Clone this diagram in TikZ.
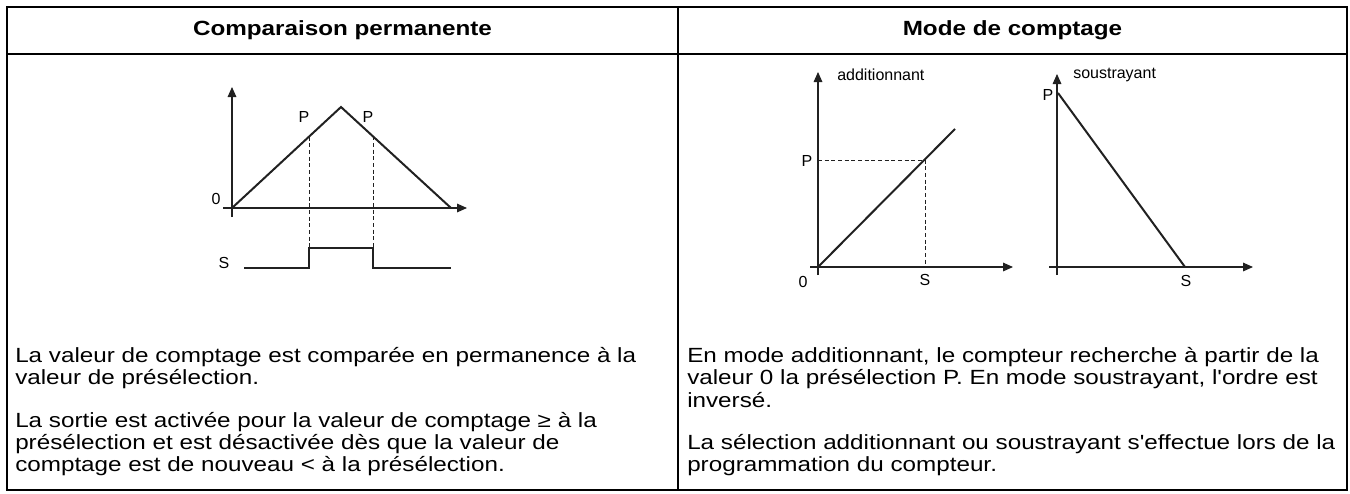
\documentclass[tikz,border=0pt]{standalone}
\usepackage{fontspec}
\newfontfamily\bodyfont{Liberation Sans}[FakeStretch=1.18]
\newfontfamily\graphfont{Liberation Sans}
\usetikzlibrary{arrows.meta}

\begin{document}
\begin{tikzpicture}[x=0.75pt,y=-0.75pt,line join=miter,
  frame/.style={line width=1.6pt},
  axis/.style={line width=0.8pt,-{Triangle[length=7.5pt,width=6.5pt]}},
  curve/.style={line width=1.5pt},
  guide/.style={line width=0.6pt,dash pattern=on 3pt off 2pt},
  signal/.style={line width=0.8pt},
  lbl/.style={font=\graphfont\fontsize{12}{14}\selectfont,inner sep=0pt},
  head/.style={font=\bodyfont\bfseries\fontsize{15.4}{16.8}\selectfont,inner sep=0pt},
  body/.style={font=\bodyfont\fontsize{15.4}{16.8}\selectfont,align=left,anchor=north west,inner sep=0pt}]
\definecolor{trait}{rgb}{0.13,0.13,0.13}
\useasboundingbox (0,0) rectangle (1350,493);
% tableau
\draw [frame] (7,7) rectangle (1347,490);
\draw [frame] (7,54)-- (1347,54);
\draw [frame] (678,7)-- (678,490);
\node [head] (hcomp) at (342.5,30.5) {Comparaison permanente};
\node [head] (hmode) at (1012.5,30.5) {Mode de comptage};
% comparaison permanente
\coordinate (o1) at (232,208);
\coordinate (pic) at (341,107);
\coordinate (fin1) at (451,208);
\coordinate (p1) at (309,136.7);
\coordinate (p2) at (373,136.4);
\draw [axis,color=trait] (232,217)-- (232,87);
\draw [axis,color=trait] (223,208)-- (467,208);
\draw [curve,color=trait] (o1)-- (pic)-- (fin1);
\draw [guide,color=trait] (p1)-- (309,248);
\draw [guide,color=trait] (p2)-- (373,248);
\draw [signal,color=trait] (244,268)-- (309,268)-- (309,248)-- (373,248)-- (373,268)-- (451,268);
\node [lbl] (lp1) at (304,117) {P};
\node [lbl] (lp2) at (368,117) {P};
\node [lbl] (l01) at (216,199) {0};
\node [lbl] (ls1) at (224,263) {S};
% mode additionnant
\coordinate (o2) at (818,267);
\coordinate (pa) at (925,160);
\draw [axis,color=trait] (818,275)-- (818,72);
\draw [axis,color=trait] (810,267)-- (1013,267);
\draw [curve,color=trait] (o2)-- (955,129);
\draw [guide,color=trait] (818,160)-- (pa)-- (925,267);
\node [lbl,anchor=west] (ladd) at (837,75) {additionnant};
\node [lbl] (lp3) at (807,161) {P};
\node [lbl] (l02) at (803,282) {0};
\node [lbl] (ls2) at (925,280) {S};
% mode soustrayant
\draw [axis,color=trait] (1057,275)-- (1057,74);
\draw [axis,color=trait] (1049,267)-- (1253,267);
\draw [curve,color=trait] (1058,93)-- (1185,267);
\node [lbl,anchor=west] (lsous) at (1073,75) {soustrayant};
\node [lbl] (lp4) at (1048,95) {P};
\node [lbl] (ls3) at (1186,281) {S};
% textes
\node [body] (tcomp) at (15,347) {La valeur de comptage est comparée en permanence à la\\
valeur de présélection.\\[15pt]
La sortie est activée pour la valeur de comptage ≥ à la\\
présélection et est désactivée dès que la valeur de\\
comptage est de nouveau < à la présélection.};
\node [body] (tmode) at (687,347) {En mode additionnant, le compteur recherche à partir de la\\
valeur 0 la présélection P. En mode soustrayant, l'ordre est\\
inversé.\\[15pt]
La sélection additionnant ou soustrayant s'effectue lors de la\\
programmation du compteur.};
\end{tikzpicture}
\end{document}
